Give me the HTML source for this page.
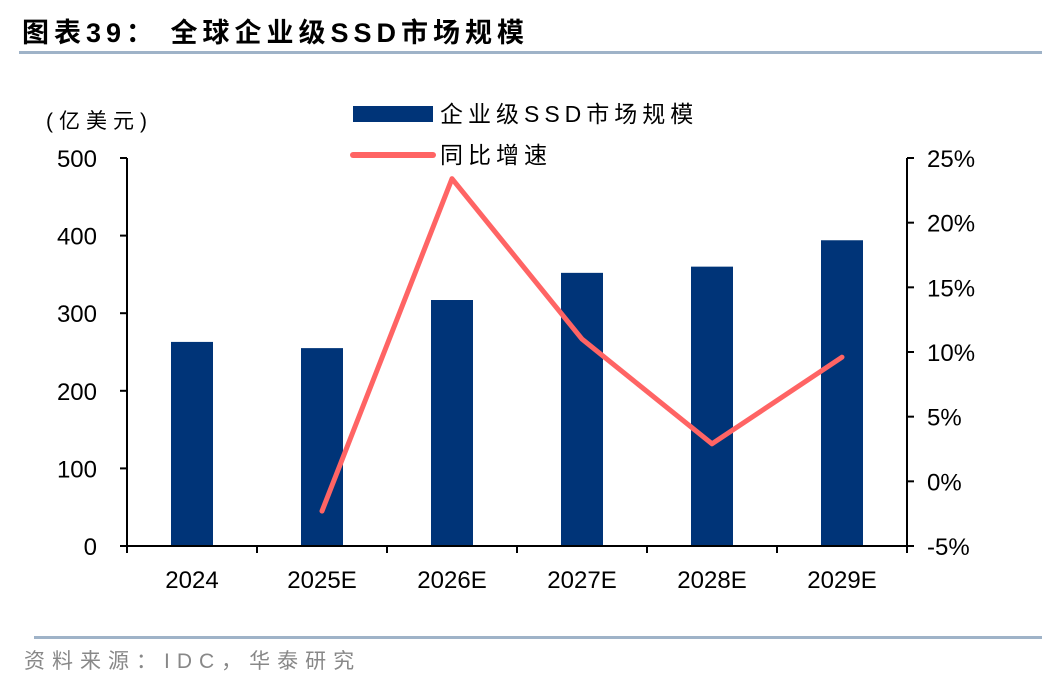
<!DOCTYPE html>
<html><head><meta charset="utf-8"><style>
body{margin:0;background:#fff;width:1048px;height:684px;overflow:hidden;font-family:"Liberation Sans","Noto Sans CJK SC",sans-serif}
</style></head><body>
<svg width="1048" height="684" xmlns="http://www.w3.org/2000/svg">
<text x="22" y="42" font-size="27" font-weight="bold" letter-spacing="5" font-family="Liberation Sans,Noto Sans CJK SC,sans-serif">图表39：  全球企业级SSD市场规模</text>
<rect x="19" y="51" width="1023" height="3" fill="#9fb3c8"/>
<text x="46" y="128" font-size="21" letter-spacing="6" font-family="Liberation Sans,Noto Sans CJK SC,sans-serif">(亿美元)</text>
<rect x="353" y="106" width="80" height="16" fill="#003478"/>
<text x="440" y="122" font-size="23" letter-spacing="5" font-family="Liberation Sans,Noto Sans CJK SC,sans-serif">企业级SSD市场规模</text>
<line x1="353" y1="155" x2="433" y2="155" stroke="#ff6464" stroke-width="6" stroke-linecap="round"/>
<text x="440" y="163" font-size="23" letter-spacing="5" font-family="Liberation Sans,Noto Sans CJK SC,sans-serif">同比增速</text>
<g id="plot"></g>
<rect x="34" y="636" width="1008" height="3" fill="#9fb3c8"/>
<text x="24" y="668" font-size="21" fill="#888" letter-spacing="7" font-family="Liberation Sans,Noto Sans CJK SC,sans-serif">资料来源：IDC，华泰研究</text>
</svg>
<script>
const categories=["2024","2025E","2026E","2027E","2028E","2029E"];
const marketSize=[263,255,317,352,360,394];
const growth=[null,-2.3,23.4,11.0,2.9,9.6];
const leftTicks=[0,100,200,300,400,500];
const rightTicks=[-5,0,5,10,15,20,25];
const NS="http://www.w3.org/2000/svg";
const g=document.getElementById('plot');
const X0=127,X1=907,Y0=546,Y1=158;
const yL=v=>Y0-(v-0)/500*(Y0-Y1);
const yR=v=>Y0-(v+5)/30*(Y0-Y1);
const bw=(X1-X0)/categories.length;
const xc=i=>X0+bw*(i+0.5);
function mk(t,a){const e=document.createElementNS(NS,t);for(const k in a)e.setAttribute(k,a[k]);g.appendChild(e);return e;}
marketSize.forEach((v,i)=>{
 const r=mk('rect',{x:xc(i)-21,y:yL(v),width:42,height:Y0-yL(v),fill:'#003478'});
 
 
});
let pts=[];growth.forEach((v,i)=>{if(v!==null)pts.push(xc(i)+','+yR(v));});
const pl=mk('polyline',{points:pts.join(' '),fill:'none',stroke:'#ff6464','stroke-width':5,'stroke-linejoin':'round','stroke-linecap':'round'});


const ax=[[X0,Y1,X0,Y0],[X1,Y1,X1,Y0],[X0-6,Y0,X1+6,Y0]];
ax.forEach(a=>{const l=mk('line',{x1:a[0],y1:a[1],x2:a[2],y2:a[3],stroke:'#000','stroke-width':2});
 
 });
leftTicks.forEach(v=>{
 mk('line',{x1:X0-7,y1:yL(v),x2:X0,y2:yL(v),stroke:'#000','stroke-width':2});
 const t=mk('text',{x:X0-30,y:yL(v)+9,'font-size':24,'text-anchor':'end'});t.textContent=v;
 
 
});
rightTicks.forEach(v=>{
 mk('line',{x1:X1,y1:yR(v),x2:X1+7,y2:yR(v),stroke:'#000','stroke-width':2});
 const t=mk('text',{x:X1+20,y:yR(v)+9,'font-size':24});t.textContent=v+'%';
 
 
});
categories.forEach((c,i)=>{
 mk('line',{x1:X0+bw*i,y1:Y0,x2:X0+bw*i,y2:Y0+7,stroke:'#000','stroke-width':2});
 const t=mk('text',{x:xc(i),y:Y0+42,'font-size':24,'text-anchor':'middle'});t.textContent=c;
 
 
});
mk('line',{x1:X1,y1:Y0,x2:X1,y2:Y0+7,stroke:'#000','stroke-width':2});
</script>
</body></html>
